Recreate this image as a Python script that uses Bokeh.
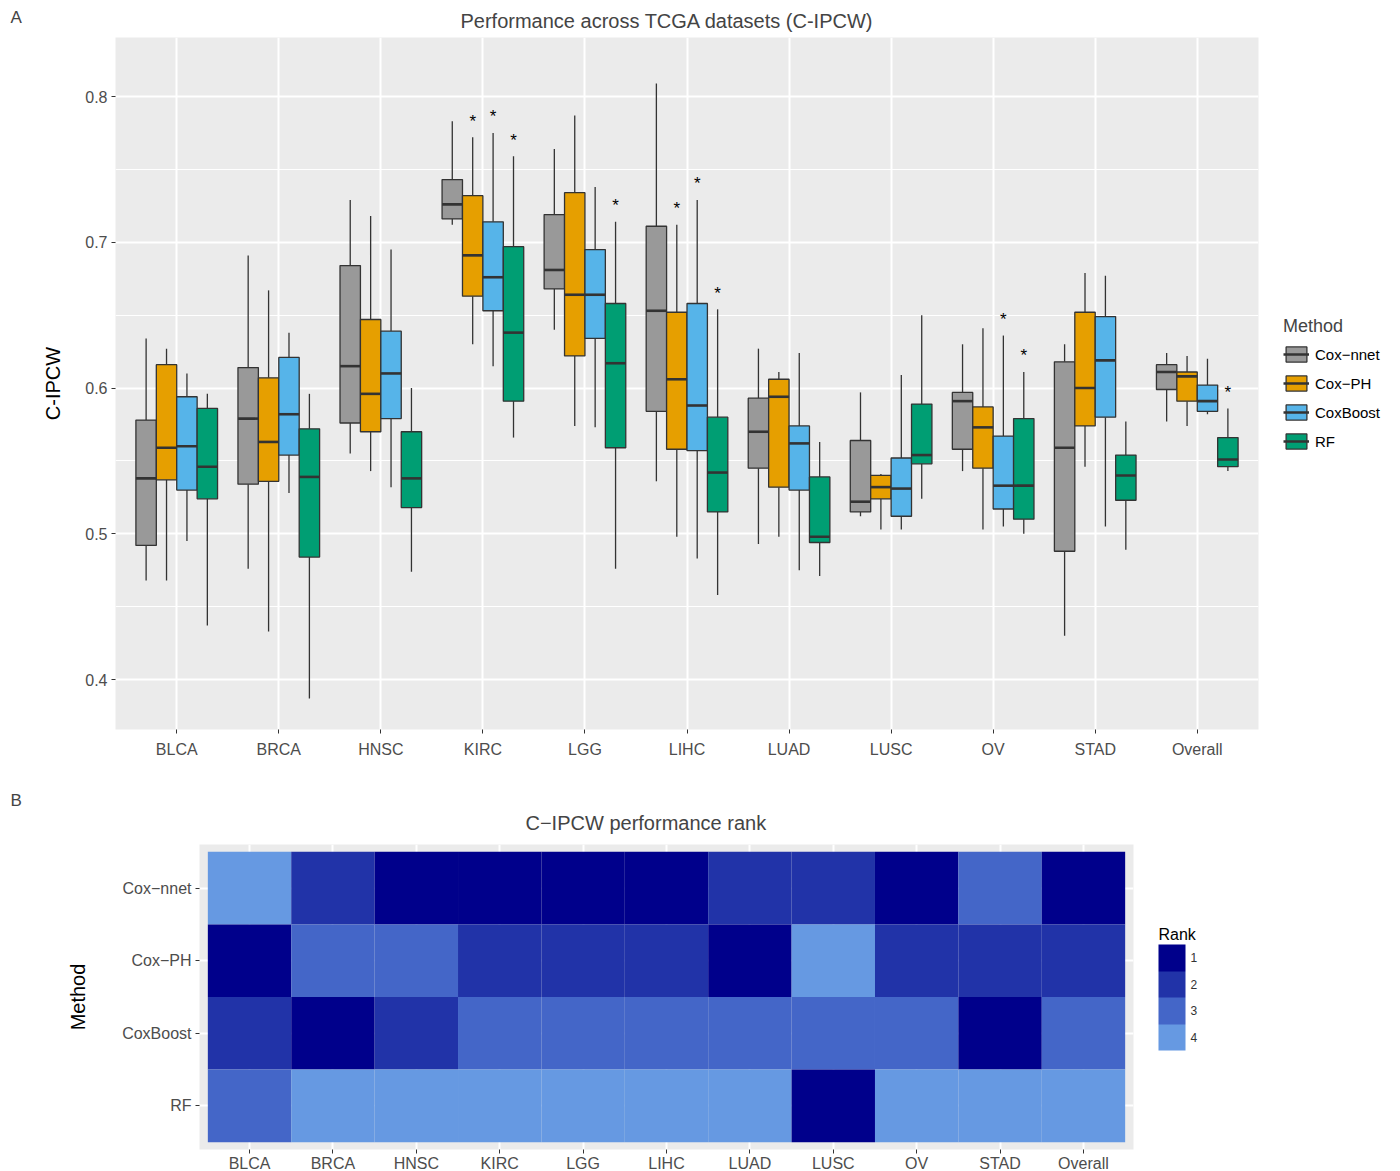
from bokeh.plotting import figure
from bokeh.models import (ColumnDataSource, FactorRange, Range1d, FixedTicker,
                          Legend, LegendItem, Label, CategoricalColorMapper, ColorBar)
from bokeh.transform import dodge
from bokeh.embed import file_html
from bokeh.resources import INLINE

FONT = "Liberation Sans"

CATS = ["BLCA", "BRCA", "HNSC", "KIRC", "LGG", "LIHC", "LUAD", "LUSC", "OV", "STAD", "Overall"]
METHODS = ["Cox−nnet", "Cox−PH", "CoxBoost", "RF"]
COLORS = ["#999999", "#E69F00", "#56B4E9", "#009E73"]

# ---- Panel A: box statistics (low whisker, Q1, median, Q3, high whisker)
NNET_LOW = [0.468, 0.476, 0.555, 0.712, 0.640, 0.536, 0.493, 0.512, 0.543, 0.430, 0.577]
NNET_Q1 = [0.492, 0.534, 0.576, 0.716, 0.668, 0.584, 0.545, 0.515, 0.558, 0.488, 0.599]
NNET_MED = [0.538, 0.579, 0.615, 0.726, 0.681, 0.653, 0.570, 0.522, 0.591, 0.559, 0.611]
NNET_Q3 = [0.578, 0.614, 0.684, 0.743, 0.719, 0.711, 0.593, 0.564, 0.597, 0.618, 0.616]
NNET_HIGH = [0.634, 0.691, 0.729, 0.783, 0.764, 0.809, 0.627, 0.597, 0.630, 0.630, 0.624]

PH_LOW = [0.468, 0.433, 0.543, 0.630, 0.574, 0.498, 0.498, 0.503, 0.503, 0.546, 0.574]
PH_Q1 = [0.537, 0.536, 0.570, 0.663, 0.622, 0.558, 0.532, 0.524, 0.545, 0.574, 0.591]
PH_MED = [0.559, 0.563, 0.596, 0.691, 0.664, 0.606, 0.594, 0.532, 0.573, 0.600, 0.608]
PH_Q3 = [0.616, 0.607, 0.647, 0.732, 0.734, 0.652, 0.606, 0.540, 0.587, 0.652, 0.611]
PH_HIGH = [0.627, 0.667, 0.718, 0.772, 0.787, 0.712, 0.611, 0.541, 0.641, 0.679, 0.622]

BOOST_LOW = [0.495, 0.528, 0.532, 0.615, 0.573, 0.483, 0.475, 0.503, 0.505, 0.505, 0.582]
BOOST_Q1 = [0.530, 0.554, 0.579, 0.653, 0.634, 0.557, 0.530, 0.512, 0.517, 0.580, 0.584]
BOOST_MED = [0.560, 0.582, 0.610, 0.676, 0.664, 0.588, 0.562, 0.531, 0.533, 0.619, 0.591]
BOOST_Q3 = [0.594, 0.621, 0.639, 0.714, 0.695, 0.658, 0.574, 0.552, 0.567, 0.649, 0.602]
BOOST_HIGH = [0.610, 0.638, 0.695, 0.775, 0.738, 0.729, 0.624, 0.609, 0.636, 0.677, 0.620]

RF_LOW = [0.437, 0.387, 0.474, 0.566, 0.476, 0.458, 0.471, 0.524, 0.500, 0.489, 0.543]
RF_Q1 = [0.524, 0.484, 0.518, 0.591, 0.559, 0.515, 0.494, 0.548, 0.510, 0.523, 0.546]
RF_MED = [0.546, 0.539, 0.538, 0.638, 0.617, 0.542, 0.498, 0.554, 0.533, 0.540, 0.551]
RF_Q3 = [0.586, 0.572, 0.570, 0.697, 0.658, 0.580, 0.539, 0.589, 0.579, 0.554, 0.566]
RF_HIGH = [0.596, 0.596, 0.600, 0.759, 0.714, 0.654, 0.563, 0.650, 0.611, 0.577, 0.586]

# significance stars (datasets marked with * above the whisker)
NNET_STARS = []
PH_STARS = ["KIRC", "LIHC"]
BOOST_STARS = ["KIRC", "LIHC", "OV"]
RF_STARS = ["KIRC", "LGG", "LIHC", "OV", "Overall"]

Y_TICKS = [0.4, 0.5, 0.6, 0.7, 0.8]
Y_MINOR = [0.45, 0.55, 0.65, 0.75]

# ---- Panel B: ranks
RANK_NNET = [4, 2, 1, 1, 1, 1, 2, 2, 1, 3, 1]
RANK_PH = [1, 3, 3, 2, 2, 2, 1, 4, 2, 2, 2]
RANK_BOOST = [2, 1, 2, 3, 3, 3, 3, 3, 3, 1, 3]
RANK_RF = [3, 4, 4, 4, 4, 4, 4, 1, 4, 4, 4]
RANK_LEVELS = ["1", "2", "3", "4"]
RANK_COLORS = ["#00008B", "#2133A8", "#4466C8", "#6699E2"]

STATS = [
    (NNET_LOW, NNET_Q1, NNET_MED, NNET_Q3, NNET_HIGH, NNET_STARS),
    (PH_LOW, PH_Q1, PH_MED, PH_Q3, PH_HIGH, PH_STARS),
    (BOOST_LOW, BOOST_Q1, BOOST_MED, BOOST_Q3, BOOST_HIGH, BOOST_STARS),
    (RF_LOW, RF_Q1, RF_MED, RF_Q3, RF_HIGH, RF_STARS),
]
RANKS = [RANK_NNET, RANK_PH, RANK_BOOST, RANK_RF]

TICK_COLOR = "#4D4D4D"
EDGE = "#333333"


def style_axes(fig, title_offset, title_standoff):
    for ax in (fig.xaxis, fig.yaxis):
        ax.axis_line_color = None
        ax.major_tick_line_color = EDGE
        ax.major_tick_out = 4
        ax.major_tick_in = 0
        ax.minor_tick_line_color = None
        ax.major_label_text_font = FONT
        ax.major_label_text_font_size = "16px"
        ax.major_label_text_color = TICK_COLOR
        ax.major_label_standoff = 4
        ax.axis_label_text_font = FONT
        ax.axis_label_text_font_size = "20px"
        ax.axis_label_text_font_style = "normal"
        ax.axis_label_text_color = "black"
    fig.background_fill_color = "#EBEBEB"
    fig.border_fill_color = "white"
    fig.outline_line_color = None
    fig.xgrid.grid_line_color = "white"
    fig.xgrid.grid_line_width = 2
    fig.ygrid.grid_line_color = "white"
    fig.ygrid.grid_line_width = 2
    fig.title.text_font = FONT
    fig.title.text_font_size = "20px"
    fig.title.text_font_style = "normal"
    fig.title.align = "left"
    fig.title.offset = title_offset
    fig.title.standoff = title_standoff


# ================= Panel A =================
p = figure(
    x_range=FactorRange(factors=CATS, range_padding=0.1, range_padding_units="absolute"),
    y_range=Range1d(0.3657, 0.8405),
    frame_width=1143, frame_height=692,
    min_border_left=115, min_border_right=0, min_border_top=37, min_border_bottom=56,
    output_backend="svg", toolbar_location=None,
    title="Performance across TCGA datasets (C-IPCW)",
)
style_axes(p, 345, 12)
p.yaxis.ticker = FixedTicker(ticks=Y_TICKS, minor_ticks=Y_MINOR)
p.ygrid.minor_grid_line_color = "white"
p.ygrid.minor_grid_line_width = 1
p.yaxis.axis_label = "C-IPCW"
p.yaxis.axis_label_standoff = 18
p.xaxis.major_label_standoff = 7

OFFSETS = [-0.3, -0.1, 0.1, 0.3]
BOX_W = 0.2
legend_items = []
for i, m in enumerate(METHODS):
    low, q1, med, q3, high, stars = STATS[i]
    src = ColumnDataSource(dict(cat=CATS, low=low, q1=q1, med=med, q3=q3, high=high))
    off = OFFSETS[i]
    xc = dodge("cat", off, range=p.x_range)
    p.segment(x0=xc, y0="q3", x1=xc, y1="high", source=src, line_color=EDGE, line_width=1.3)
    p.segment(x0=xc, y0="q1", x1=xc, y1="low", source=src, line_color=EDGE, line_width=1.3)
    box = p.vbar(x=xc, width=BOX_W, bottom="q1", top="q3", source=src,
                 fill_color=COLORS[i], line_color=EDGE, line_width=1.3)
    med_r = p.segment(x0=dodge("cat", off - BOX_W / 2, range=p.x_range), y0="med",
                      x1=dodge("cat", off + BOX_W / 2, range=p.x_range), y1="med",
                      source=src, line_color=EDGE, line_width=2.6)
    legend_items.append(LegendItem(label=m, renderers=[box, med_r]))
    if stars:
        sy = [high[CATS.index(c)] + 0.011 for c in stars]
        ssrc = ColumnDataSource(dict(cat=stars, y=sy, t=["*"] * len(stars)))
        p.text(x=dodge("cat", off, range=p.x_range), y="y", text="t", source=ssrc,
               text_font_size="17px", text_align="center", text_baseline="middle",
               text_color="black")

legA = Legend(items=legend_items, location="center_left", title="Method",
              title_text_font=FONT, title_text_font_size="18px", title_text_font_style="normal",
              label_text_font=FONT, label_text_font_size="15px", label_text_color="black",
              glyph_width=26, glyph_height=19, spacing=10, label_standoff=6,
              padding=0, margin=25, border_line_color=None, background_fill_alpha=0,
              title_standoff=8)
p.add_layout(legA, "right")
p.add_layout(Label(x=10, y=17, x_units="canvas", y_units="canvas", text="A",
                   text_font=FONT, text_font_size="17px", text_baseline="middle"), "left")

# ================= Panel B =================
p2 = figure(
    x_range=FactorRange(factors=CATS, range_padding=0.1, range_padding_units="absolute"),
    y_range=FactorRange(factors=list(reversed(METHODS)), range_padding=0.1,
                        range_padding_units="absolute"),
    frame_width=934, frame_height=305,
    min_border_left=199, min_border_right=0, min_border_top=59, min_border_bottom=37,
    output_backend="svg", toolbar_location=None,
    title="C−IPCW performance rank",
)
style_axes(p2, 326, 21)
p2.yaxis.axis_label = "Method"
p2.yaxis.axis_label_standoff = 30
p2.xaxis.major_label_standoff = 1

xs, ys, rk = [], [], []
for i, m in enumerate(METHODS):
    for j, c in enumerate(CATS):
        xs.append(c)
        ys.append(m)
        rk.append(str(RANKS[i][j]))
rank_mapper = CategoricalColorMapper(factors=list(reversed(RANK_LEVELS)),
                                     palette=list(reversed(RANK_COLORS)))
rs = ColumnDataSource(dict(cat=xs, method=ys, rank=rk))
p2.rect(x="cat", y="method", width=1, height=1, source=rs,
        fill_color={"field": "rank", "transform": rank_mapper}, line_color=None)

cb = ColorBar(color_mapper=rank_mapper, width=27, height=106, location="center_left",
              margin=0, padding=25,
              major_label_text_font=FONT, major_label_text_font_size="12px",
              major_label_text_color="#333333", label_standoff=5,
              major_tick_line_color=None, bar_line_color=None,
              border_line_color=None, background_fill_alpha=0)
p2.add_layout(cb, "right")
p2.add_layout(Label(x=1158, y=149, x_units="canvas", y_units="canvas", text="Rank",
                    text_font=FONT, text_font_size="16px", text_baseline="middle",
                    text_color="black"), "right")
p2.add_layout(Label(x=10, y=15, x_units="canvas", y_units="canvas", text="B",
                    text_font=FONT, text_font_size="17px", text_baseline="middle"), "left")

open("out.html", "w").write(file_html([p, p2], INLINE))
